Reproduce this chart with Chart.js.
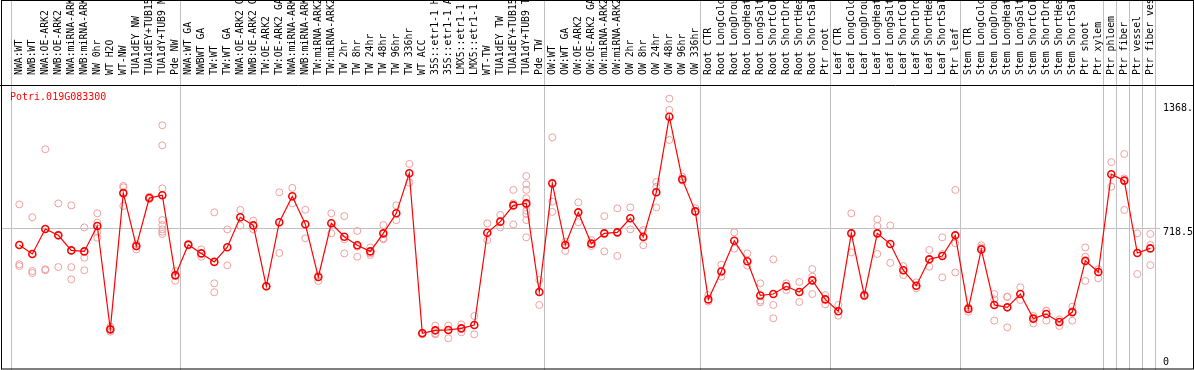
<!DOCTYPE html>
<html>
<head>
<meta charset="UTF-8">
<title>Potri.019G083300</title>
<script src="https://cdn.jsdelivr.net/npm/chart.js"></script>
<style>
  html, body { margin: 0; padding: 0; background: #fff; }
  #wrap { width: 1194px; height: 370px; position: relative; }
</style>
</head>
<body>
<div id="wrap"><canvas id="chart"></canvas></div>
<script>
const geneName = 'Potri.019G083300';

const labels = [
  'NWA:WT', 'NWB:WT', 'NWA:OE-ARK2', 'NWB:OE-ARK2', 'NWA:miRNA-ARK2', 'NWB:miRNA-ARK2',
  'NW 0hr', 'WT H2O', 'WT-NW', 'TUA1dEY NW', 'TUA1dEY+TUB15 NW', 'TUA1dY+TUB9 NW', 'Pde NW',
  'NWA:WT GA', 'NWBWT GA', 'TW:WT', 'TW:WT GA', 'NWA:OE-ARK2 GA', 'NWB:OE-ARK2 GA',
  'TW:OE-ARK2', 'TW:OE-ARK2 GA', 'NWA:miRNA-ARK2', 'NWB:miRNA-ARK2', 'TW:miRNA-ARK2',
  'TW:miRNA-ARK2', 'TW 2hr', 'TW 8hr', 'TW 24hr', 'TW 48hr', 'TW 96hr', 'TW 336hr', 'WT ACC',
  '35S::etr1-1 H2O', '35S::etr1-1 ACC', 'LMX5::etr1-1 H2O', 'LMX5::etr1-1 ACC', 'WT-TW',
  'TUA1dEY TW', 'TUA1dEY+TUB15 TW', 'TUA1dY+TUB9 TW', 'Pde TW',
  'OW:WT', 'OW:WT GA', 'OW:OE-ARK2', 'OW:OE-ARK2 GA', 'OW:miRNA-ARK2', 'OW:miRNA-ARK2',
  'OW 2hr', 'OW 8hr', 'OW 24hr', 'OW 48hr', 'OW 96hr', 'OW 336hr',
  'Root CTR', 'Root LongCold', 'Root LongDrought', 'Root LongHeat', 'Root LongSalt',
  'Root ShortCold', 'Root ShortDrought', 'Root ShortHeat', 'Root ShortSalt', 'Ptr root',
  'Leaf CTR', 'Leaf LongCold', 'Leaf LongDrought', 'Leaf LongHeat', 'Leaf LongSalt',
  'Leaf ShortCold', 'Leaf ShortDrought', 'Leaf ShortHeat', 'Leaf ShortSalt', 'Ptr leaf',
  'Stem CTR', 'Stem LongCold', 'Stem LongDrought', 'Stem LongHeat', 'Stem LongSalt',
  'Stem ShortCold', 'Stem ShortDrought', 'Stem ShortHeat', 'Stem ShortSalt', 'Ptr shoot',
  'Ptr xylem', 'Ptr phloem', 'Ptr fiber', 'Ptr vessel', 'Ptr fiber vessel'
];

// mean expression per sample
const means = [
  630, 585, 711, 679, 603, 598, 726, 205, 892, 625, 867, 881, 477,
  632, 588, 545, 619, 770, 729, 422, 745, 876, 735, 469, 740, 672, 629, 598, 689, 790,
  992, 185, 200, 202, 210, 227, 692, 748, 830, 840, 393,
  941, 630, 795, 637, 689, 694, 765, 671, 896, 1277, 961, 800,
  356, 497, 652, 548, 376, 383, 422, 393, 452, 356,
  296, 689, 376, 689, 635, 503, 425, 558, 575, 679,
  308, 608, 328, 316, 383, 259, 282, 242, 292, 550, 494,
  987, 955, 590, 613
];

// individual replicates per sample
const reps = [
  [835, 533, 524], [770, 499, 489], [1113, 508, 503], [840, 519], [830, 519, 457],
  [719, 566, 503], [790, 743, 697, 667], [218, 205, 193], [921, 827, 928], [635, 622, 608],
  [874, 862], [1234, 1133, 916, 756, 731, 709, 697, 686], [499, 450, 480],
  [632, 628], [608, 571], [795, 437, 392], [709, 528], [807, 728], [753, 709], [422, 420],
  [896, 590], [918, 840], [808, 664], [477, 449], [790, 689], [776, 659, 588],
  [701, 622, 571], [618, 588, 580], [731, 664, 659], [830, 755], [1039, 945], [188, 180],
  [224, 185, 180], [224, 160, 202], [230, 190], [272, 180], [739, 655], [782, 719],
  [908, 840, 734], [978, 936, 908, 866, 832, 803, 787, 756, 669], [454, 328],
  [1173, 849, 797], [647, 600], [845, 745], [655, 625], [776, 598], [815, 575], [820, 709],
  [706, 629], [948, 924, 820], [1368, 1311, 1160], [975, 955], [815, 797],
  [378, 345], [531, 471], [694, 612], [588, 526], [437, 350, 341], [558, 328, 261],
  [437, 403], [444, 343], [509, 471, 383], [378, 331],
  [328, 274], [790, 593], [383, 373], [760, 726, 585], [729, 540], [524, 479], [442, 412],
  [605, 521], [669, 585, 467], [908, 639, 492],
  [316, 294], [629, 618], [383, 356, 249], [370, 368, 215], [417, 353], [272, 235],
  [299, 249, 298], [255, 222], [319, 249], [618, 571, 449], [508, 462],
  [1048, 924], [1089, 966, 807], [689, 484], [686, 630, 529]
];

// index of the last sample in each group (separator drawn after it)
const groupEnds = [-1, 12, 40, 52, 62, 72, 83, 84, 85, 86, 87];

const yMax = 1437;
const yTicks = [0, 718.5, 1368];
const yTickLabels = ['0', '718.5', '1368.'];

const MONO = '"DejaVu Sans Mono", "Liberation Mono", monospace';

const maxReps = Math.max(...reps.map(r => r.length));
const repSets = [];
for (let k = 0; k < maxReps; k++) {
  repSets.push({
    data: reps.map(r => (k < r.length ? r[k] : null)),
    showLine: false,
    pointRadius: 3.5,
    pointBorderWidth: 1,
    pointBorderColor: '#f0a0a0',
    pointBackgroundColor: 'rgba(0,0,0,0)',
    pointHoverRadius: 3.5
  });
}

function seg(c, x1, y1, x2, y2) {
  c.beginPath(); c.moveTo(x1, y1); c.lineTo(x2, y2); c.stroke();
}

const frame = {
  id: 'frame',
  beforeDraw(chart) {
    const c = chart.ctx;
    c.save();
    c.fillStyle = '#fff';
    c.fillRect(0, 0, chart.width, chart.height);
    c.restore();
  },
  beforeDatasetsDraw(chart) {
    const { ctx: c, scales: { x, y } } = chart;
    c.save();
    c.strokeStyle = '#c0c0c0';
    c.lineWidth = 1;
    groupEnds.forEach(i => {
      const px = Math.round(x.getPixelForValue(i + 0.37)) + 0.5;
      seg(c, px, 0, px, chart.height);
    });
    const gy = Math.round(y.getPixelForValue(yTicks[1])) + 0.5;
    seg(c, 2, gy, 1160, gy);
    c.restore();
  },
  afterDraw(chart) {
    const { ctx: c, scales: { y }, chartArea } = chart;
    c.save();
    c.strokeStyle = '#000';
    c.lineWidth = 1;
    c.strokeRect(1.5, 0.5, chart.width - 2, chart.height - 1.5);
    const ty = Math.round(chartArea.top) + 0.5;
    seg(c, 0, ty, chart.width, ty);

    c.font = '10px ' + MONO;
    c.fillStyle = '#000';
    c.textAlign = 'left';
    c.textBaseline = 'middle';
    const offs = [-8, 5, 10];
    yTicks.forEach((v, i) => {
      c.fillText(yTickLabels[i], 1163, y.getPixelForValue(v) + offs[i]);
    });

    c.fillStyle = '#ff0000';
    c.fillText(geneName, 10, chartArea.top + 12);
    c.restore();
  }
};

new Chart(document.getElementById('chart'), {
  type: 'line',
  data: {
    labels: labels,
    datasets: [{
      data: means,
      borderColor: '#ff0000',
      borderWidth: 1.2,
      pointRadius: 3.5,
      pointBorderWidth: 1.6,
      pointBorderColor: '#ff0000',
      pointBackgroundColor: 'rgba(0,0,0,0)',
      pointHoverRadius: 3.5,
      tension: 0
    }, ...repSets]
  },
  options: {
    responsive: true,
    maintainAspectRatio: false,
    animation: false,
    devicePixelRatio: 1,
    layout: { autoPadding: false, padding: { left: 12.8, right: 37.2, top: 0, bottom: 0 } },
    plugins: { legend: { display: false }, tooltip: { enabled: false } },
    scales: {
      x: {
        type: 'category',
        position: 'top',
        offset: true,
        grid: { display: false },
        border: { display: false },
        ticks: {
          autoSkip: false,
          maxRotation: 90,
          minRotation: 90,
          padding: 2,
          labelOffset: 12,
          color: '#000',
          font: { family: MONO, size: 9.8 }
        },
        afterFit(scale) { scale.height = 85; }
      },
      y: {
        display: false,
        min: 0,
        max: yMax
      }
    }
  },
  plugins: [frame]
});
</script>
</body>
</html>
